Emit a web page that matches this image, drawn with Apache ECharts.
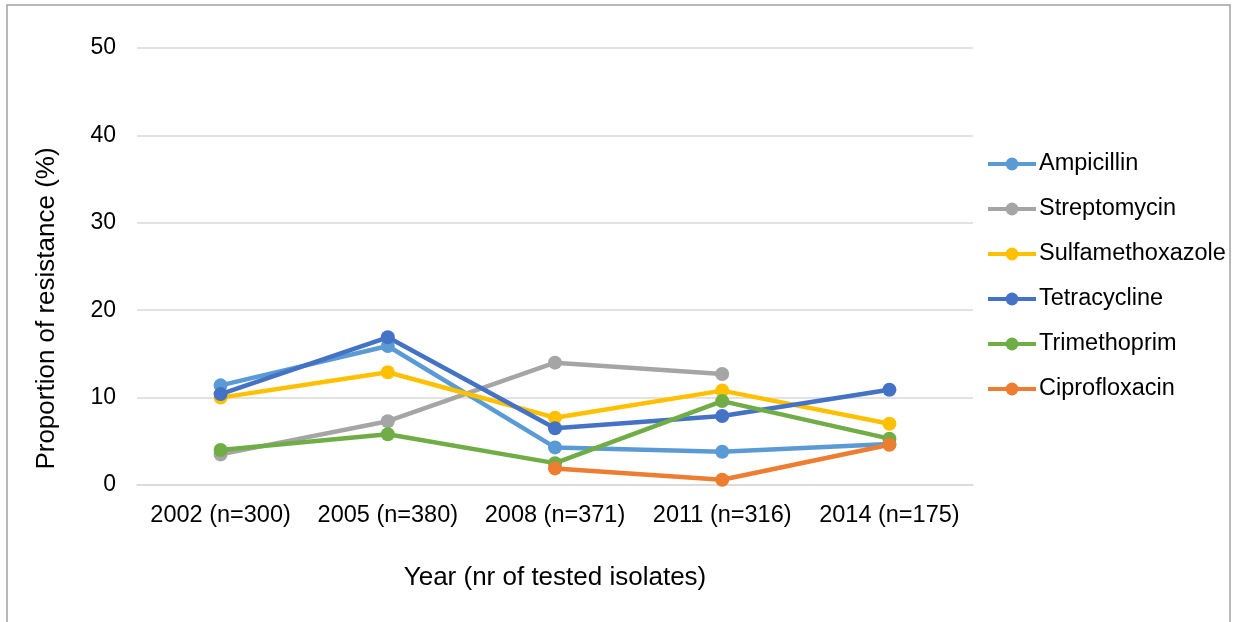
<!DOCTYPE html>
<html>
<head>
    <meta charset="utf-8">
    <script src="https://cdn.jsdelivr.net/npm/echarts@6/dist/echarts.min.js"></script>
    <style>
        body { margin: 0; background: #fff; }
        #main { width: 1241px; height: 622px; }
    </style>
</head>
<body>
    <div id="main"></div>
    <script type="text/javascript">
        // years with number of tested isolates
        var years = ['2002 (n=300)', '2005 (n=380)', '2008 (n=371)', '2011 (n=316)', '2014 (n=175)'];

        var ampicillin = [11.4, 15.9, 4.3, 3.8, 4.7];
        var streptomycin = [3.5, 7.3, 14.0, 12.7, null];
        var sulfamethoxazole = [10.0, 12.9, 7.7, 10.8, 7.0];
        var tetracycline = [10.4, 16.9, 6.5, 7.9, 10.9];
        var trimethoprim = [4.0, 5.8, 2.5, 9.6, 5.3];
        var ciprofloxacin = [null, null, 1.9, 0.6, 4.6];

        var names = ['Ampicillin', 'Streptomycin', 'Sulfamethoxazole', 'Tetracycline', 'Trimethoprim', 'Ciprofloxacin'];
        var values = [ampicillin, streptomycin, sulfamethoxazole, tetracycline, trimethoprim, ciprofloxacin];
        var colors = ['#5B9BD5', '#A5A5A5', '#FFC000', '#4472C4', '#70AD47', '#ED7D31'];

        var series = [];
        for (var i = 0; i < names.length; i++) {
            series.push({
                name: names[i],
                type: 'line',
                data: values[i],
                symbol: 'circle',
                symbolSize: 14,
                lineStyle: { width: 4.5, color: colors[i] },
                itemStyle: { color: colors[i] },
                connectNulls: false
            });
        }

        var chart = echarts.init(document.getElementById('main'));
        chart.setOption({
            animation: false,
            textStyle: { fontFamily: 'Liberation Sans, Arial, sans-serif' },
            graphic: [{
                type: 'rect',
                shape: { x: 7, y: 5, width: 1223, height: 640 },
                style: { fill: 'none', stroke: '#a0a0a0', lineWidth: 1.5 },
                silent: true
            }],
            grid: { left: 137, right: 268, top: 48, bottom: 137 },
            legend: {
                orient: 'vertical',
                left: 981,
                top: 147,
                itemWidth: 48,
                itemHeight: 16,
                itemGap: 21,
                lineStyle: { width: 4 },
                textStyle: { fontSize: 23.5, color: '#000', padding: [0, 0, 0, -2] },
                data: names
            },
            xAxis: {
                type: 'category',
                data: years,
                name: 'Year (nr of tested isolates)',
                nameLocation: 'middle',
                nameGap: 80,
                nameTextStyle: { fontSize: 26, color: '#000' },
                axisLine: { lineStyle: { color: '#d9d9d9', width: 1.5 } },
                axisTick: { show: false },
                axisLabel: { fontSize: 23.5, color: '#000', margin: 19, interval: 0 }
            },
            yAxis: {
                type: 'value',
                min: 0,
                max: 50,
                interval: 10,
                name: 'Proportion of resistance (%)',
                nameLocation: 'middle',
                nameGap: 77,
                nameTextStyle: { fontSize: 26, color: '#000', padding: [0, 84, 0, 0] },
                axisLine: { show: false },
                axisTick: { show: false },
                axisLabel: { fontSize: 23, color: '#000', margin: 21 },
                splitLine: { lineStyle: { color: '#d9d9d9', width: 1.5 } }
            },
            series: series
        });
    </script>
</body>
</html>
